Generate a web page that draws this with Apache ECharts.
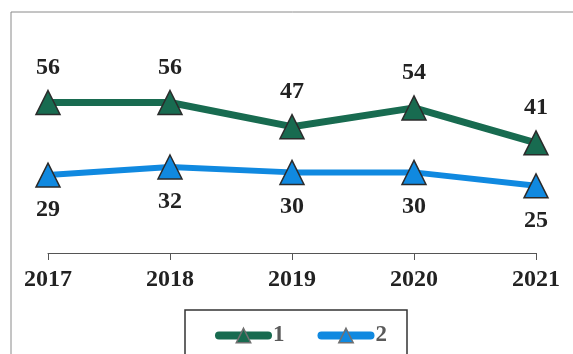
<!DOCTYPE html>
<html>
<head>
<meta charset="utf-8">
<script src="https://cdn.jsdelivr.net/npm/echarts@6/dist/echarts.min.js"></script>
<style>
  html, body { margin: 0; padding: 0; background: #ffffff; }
  #chart { width: 573px; height: 354px; }
</style>
</head>
<body>
<div id="chart"></div>
<script>
// Years along the horizontal axis
const years = ['2017', '2018', '2019', '2020', '2021'];
// Series values
const series1 = [56, 56, 47, 54, 41];
const series2 = [29, 32, 30, 30, 25];
const seriesNames = ['1', '2'];

const serif = '"Liberation Serif", "Times New Roman", serif';
const green = '#186b50';
const blue = '#1089e0';

const chart = echarts.init(document.getElementById('chart'), null, { renderer: 'canvas' });

function lineSeries(name, data, color, width, labelPos) {
  return {
    name: name,
    type: 'line',
    data: data,
    symbol: 'triangle',
    symbolSize: [24, 24],
    showAllSymbol: true,
    lineStyle: { color: color, width: width },
    itemStyle: { color: color, borderColor: '#2b2b2b', borderWidth: 1.5 },
    label: {
      show: true,
      position: labelPos,
      distance: 10,
      fontFamily: serif,
      fontWeight: 'bold',
      fontSize: 24,
      color: '#222222'
    },
    emphasis: { disabled: true },
    animation: false
  };
}

chart.setOption({
  backgroundColor: '#ffffff',
  animation: false,
  grid: { left: 48, right: 37, top: 38, bottom: 101 },
  xAxis: {
    type: 'category',
    data: years,
    boundaryGap: false,
    axisLine: { lineStyle: { color: '#555555', width: 1 } },
    axisTick: { show: true, length: 7, lineStyle: { color: '#555555' } },
    axisLabel: {
      margin: 15,
      fontFamily: serif,
      fontWeight: 'bold',
      fontSize: 24,
      color: '#222222'
    }
  },
  yAxis: {
    type: 'value',
    min: 0,
    max: 80,
    show: false,
    splitLine: { show: false }
  },
  legend: {
    data: seriesNames,
    left: 210,
    top: 319,
    itemWidth: 49,
    itemHeight: 18,
    itemGap: 33,
    lineStyle: { width: 8, cap: 'round' },
    itemStyle: { borderColor: '#707070', borderWidth: 1.5 },
    textStyle: {
      fontFamily: serif,
      fontWeight: 'bold',
      fontSize: 23,
      color: '#5a5a5a'
    }
  },
  graphic: [
    {
      type: 'polyline',
      shape: { points: [[11, 360], [11, 12], [580, 12]] },
      style: { stroke: '#8a8a8a', lineWidth: 1, fill: null },
      silent: true
    },
    {
      type: 'rect',
      shape: { x: 185, y: 310, width: 222, height: 80 },
      style: { stroke: '#333333', lineWidth: 1.5, fill: null },
      silent: true
    }
  ],
  series: [
    lineSeries(seriesNames[0], series1, green, 7, 'top'),
    lineSeries(seriesNames[1], series2, blue, 6, 'bottom')
  ]
});
</script>
</body>
</html>
